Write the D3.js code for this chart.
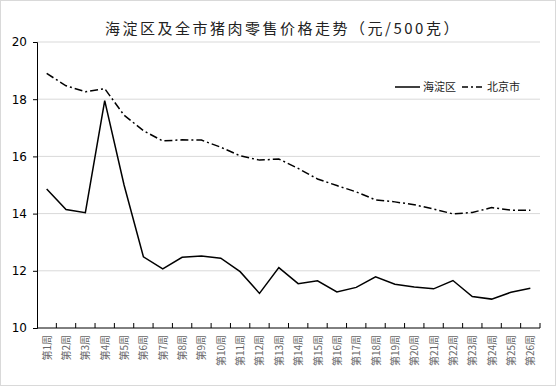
<!DOCTYPE html>
<html>
<head>
<meta charset="utf-8">
<script src="https://cdn.jsdelivr.net/npm/d3@7"></script>
<style>
  body { margin: 0; background: #fff; }
  svg { display: block; }
</style>
</head>
<body>
<svg id="chart" width="556" height="386"></svg>
<script>
// weekly retail pork price, yuan per 500g
var weeks = ["第1周","第2周","第3周","第4周","第5周","第6周","第7周","第8周","第9周","第10周",
  "第11周","第12周","第13周","第14周","第15周","第16周","第17周","第18周","第19周","第20周",
  "第21周","第22周","第23周","第24周","第25周","第26周"];
var haidian = [14.86, 14.14, 14.03, 17.95, 15.0, 12.49, 12.07, 12.47, 12.52, 12.44,
  11.97, 11.21, 12.11, 11.55, 11.65, 11.26, 11.42, 11.79, 11.53, 11.43,
  11.37, 11.66, 11.1, 11.01, 11.25, 11.39];
var beijing = [18.9, 18.47, 18.26, 18.37, 17.44, 16.9, 16.54, 16.58, 16.57, 16.32,
  16.02, 15.87, 15.91, 15.58, 15.21, 14.98, 14.76, 14.48, 14.41, 14.31,
  14.16, 13.99, 14.04, 14.21, 14.12, 14.12];
var yTicks = [10, 12, 14, 16, 18, 20];

var svg = d3.select("#chart");
var margin = {left: 37, right: 16, top: 42, bottom: 58};
var W = 556, H = 386;

// outer frame
svg.append("rect")
    .attr("x", 0.5).attr("y", 0.5)
    .attr("width", W - 1).attr("height", H - 1)
    .attr("fill", "#fff").attr("stroke", "#d9d9d9");

var x = d3.scaleBand()
    .domain(weeks)
    .range([margin.left, W - margin.right]);

var y = d3.scaleLinear()
    .domain([10, 20])
    .range([H - margin.bottom, margin.top]);

// gridlines
svg.append("g")
  .selectAll("line")
  .data(yTicks.filter(function(d) { return d > 10; }))
  .enter().append("line")
    .attr("x1", margin.left).attr("x2", W - margin.right)
    .attr("y1", function(d) { return y(d); })
    .attr("y2", function(d) { return y(d); })
    .attr("stroke", "#d9d9d9").attr("stroke-width", 1);

// y axis
var yAxis = svg.append("g")
    .attr("transform", "translate(" + margin.left + ",0)")
    .call(d3.axisLeft(y).tickValues(yTicks).tickSize(4).tickPadding(6));
yAxis.select(".domain").attr("stroke", "#000");
yAxis.selectAll(".tick line").attr("stroke", "#000");
yAxis.selectAll("text")
    .attr("font-family", "DejaVu Sans, sans-serif")
    .attr("font-size", 12).attr("fill", "#000");

// x axis with ticks between categories
var xAxisG = svg.append("g")
    .attr("transform", "translate(0," + y(10) + ")");
xAxisG.append("line")
    .attr("x1", margin.left).attr("x2", W - margin.right)
    .attr("stroke", "#000");
xAxisG.selectAll(".tk")
  .data(weeks)
  .enter().append("line")
    .attr("x1", function(d) { return x(d) + x.bandwidth(); })
    .attr("x2", function(d) { return x(d) + x.bandwidth(); })
    .attr("y1", 0).attr("y2", -5)
    .attr("stroke", "#000");
xAxisG.selectAll("text")
  .data(weeks)
  .enter().append("text")
    .attr("transform", function(d) {
      return "translate(" + (x(d) + x.bandwidth() / 2 + 4) + ",7) rotate(-90)";
    })
    .attr("text-anchor", "end")
    .attr("font-family", "Noto Sans CJK SC, sans-serif")
    .attr("font-size", 10)
    .attr("fill", "#666")
    .text(function(d) { return d; });

var line = d3.line()
    .x(function(d, i) { return x(weeks[i]) + x.bandwidth() / 2; })
    .y(function(d) { return y(d); });

svg.append("path")
    .datum(beijing)
    .attr("d", line)
    .attr("fill", "none")
    .attr("stroke", "#000")
    .attr("stroke-width", 1.5)
    .attr("stroke-dasharray", "8,3,2,3");

svg.append("path")
    .datum(haidian)
    .attr("d", line)
    .attr("fill", "none")
    .attr("stroke", "#000")
    .attr("stroke-width", 1.5);

// title
svg.append("text")
    .attr("x", 283).attr("y", 34)
    .attr("text-anchor", "middle")
    .attr("font-family", "Noto Sans CJK SC, sans-serif")
    .attr("font-size", 15)
    .attr("letter-spacing", 2.5)
    .attr("fill", "#222")
    .text("海淀区及全市猪肉零售价格走势（元/500克）");

// legend
var lg = svg.append("g").attr("transform", "translate(395,87)");
lg.append("line").attr("x1", 0).attr("x2", 25)
    .attr("stroke", "#000").attr("stroke-width", 1.5);
lg.append("text").attr("x", 28).attr("y", 4)
    .attr("font-family", "Noto Sans CJK SC, sans-serif")
    .attr("font-size", 11).attr("fill", "#222").text("海淀区");
lg.append("line").attr("x1", 67).attr("x2", 87)
    .attr("stroke", "#000").attr("stroke-width", 1.5)
    .attr("stroke-dasharray", "6,3,2,3");
lg.append("text").attr("x", 92).attr("y", 4)
    .attr("font-family", "Noto Sans CJK SC, sans-serif")
    .attr("font-size", 11).attr("fill", "#222").text("北京市");
</script>
</body>
</html>
